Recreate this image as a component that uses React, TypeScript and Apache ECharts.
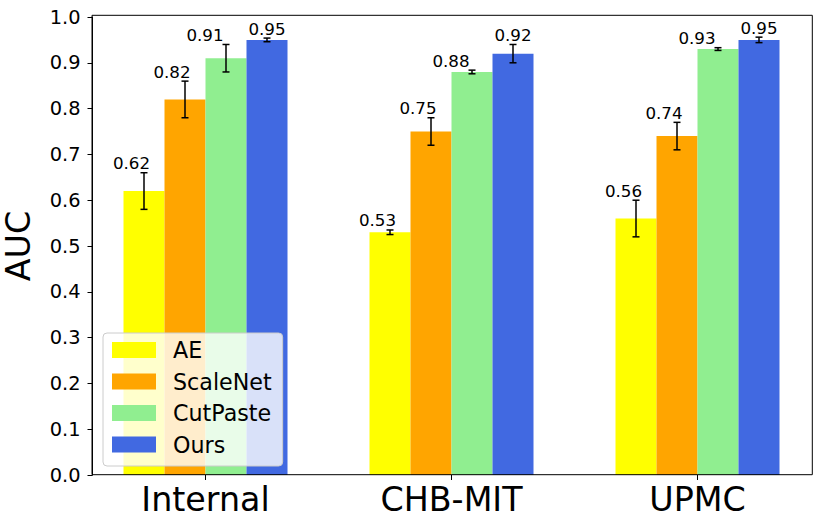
import React, { useEffect, useRef } from "react";
import * as echarts from "echarts";

const categories = ["Internal", "CHB-MIT", "UPMC"];
const methods = ["AE", "ScaleNet", "CutPaste", "Ours"];
const aeValues = [0.62, 0.53, 0.56];
const aeErrors = [0.04, 0.005, 0.04];
const scaleNetValues = [0.82, 0.75, 0.74];
const scaleNetErrors = [0.04, 0.03, 0.03];
const cutPasteValues = [0.91, 0.88, 0.93];
const cutPasteErrors = [0.03, 0.004, 0.003];
const oursValues = [0.95, 0.92, 0.95];
const oursErrors = [0.004, 0.02, 0.006];
const yTicks = [0, 0.1, 0.2, 0.3, 0.4, 0.5, 0.6, 0.7, 0.8, 0.9, 1.0];

const colors = ["#ffff00", "#ffa500", "#90ee90", "#4169e1"];
const labelShift = [-12.5, -13, -21, 0];
const BAR_FRACTION = 41 / 246;
const FONT = "DejaVu Sans";

export default function App() {
  const ref = useRef<HTMLDivElement>(null);
  useEffect(() => {
    if (!ref.current) return;
    const chart = echarts.init(ref.current, undefined, { renderer: "svg" });
    const values = [aeValues, scaleNetValues, cutPasteValues, oursValues];
    const errors = [aeErrors, scaleNetErrors, cutPasteErrors, oursErrors];

    const barSeries = methods.map((m, s) => ({
      name: m,
      type: "bar",
      data: values[s],
      barWidth: (BAR_FRACTION * 100).toFixed(3) + "%",
      barGap: "0%",
      itemStyle: { color: colors[s] },
      z: 2,
    }));

    const errSeries = methods.map((m, s) => ({
      name: m + "-err",
      type: "custom",
      z: 3,
      data: values[s].map((v, i) => [i, v, errors[s][i]]),
      renderItem: (params: any, api: any) => {
        const idx = api.value(0);
        const v = api.value(1);
        const e = api.value(2);
        const center = api.coord([idx, v]);
        const band = api.size([1, 0])[0];
        const bw = band * BAR_FRACTION;
        const x = center[0] + (s - 1.5) * bw;
        const yTop = api.coord([idx, v + e])[1];
        const yBot = api.coord([idx, v - e])[1];
        const cap = 3.5;
        const ls = { stroke: "#000", lineWidth: 1.5 };
        return {
          type: "group",
          children: [
            { type: "line", shape: { x1: x, y1: yTop, x2: x, y2: yBot }, style: ls },
            { type: "line", shape: { x1: x - cap, y1: yTop, x2: x + cap, y2: yTop }, style: ls },
            { type: "line", shape: { x1: x - cap, y1: yBot, x2: x + cap, y2: yBot }, style: ls },
            {
              type: "text",
              x: x + labelShift[s],
              y: yTop - 1,
              style: {
                text: v.toFixed(2),
                fill: "#000",
                font: `16.7px '${FONT}'`,
                align: "center",
                verticalAlign: "bottom",
              },
            },
          ],
        };
      },
    }));

    chart.setOption({
      animation: false,
      textStyle: { fontFamily: FONT, color: "#000" },
      grid: { left: 82.5, right: 0.5, top: 17, bottom: 53, containLabel: false, outerBoundsMode: "none" },
      legend: {
        data: methods,
        orient: "vertical",
        left: 103,
        top: 333,
        icon: "rect",
        itemWidth: 44,
        itemHeight: 16,
        itemGap: 9.5,
        padding: [6, 11, 10.5, 9],
        backgroundColor: "rgba(255,255,255,0.8)",
        borderColor: "#cccccc",
        borderWidth: 1,
        borderRadius: 4,
        textStyle: { fontSize: 22.2, fontFamily: FONT, color: "#000", padding: [0, 0, 0, 12] },
        selectedMode: false,
      },
      xAxis: {
        type: "category",
        data: categories,
        axisLine: { show: false },
        axisTick: { show: true, alignWithLabel: true, length: 5, lineStyle: { color: "#000" } },
        axisLabel: { fontSize: 33.3, color: "#000", margin: 8, fontFamily: FONT },
      },
      yAxis: {
        type: "value",
        min: yTicks[0],
        max: yTicks[yTicks.length - 1],
        interval: 0.1,
        offset: -10,
        name: "AUC",
        nameLocation: "middle",
        nameRotate: 90,
        nameGap: 58,
        nameTextStyle: { fontSize: 33.3, color: "#000", fontFamily: FONT },
        axisLine: { show: true, lineStyle: { color: "#000", width: 1 } },
        axisTick: { show: true, length: 5, lineStyle: { color: "#000" } },
        axisLabel: { fontSize: 19.4, color: "#000", margin: 12, fontFamily: FONT, formatter: (v: number) => v.toFixed(1) },
        splitLine: { show: false },
      },
      graphic: [
        {
          type: "rect",
          shape: { x: 92, y: 15.3, width: 720.3, height: 459.4 },
          style: { fill: "none", stroke: "#000", lineWidth: 1 },
          silent: true,
          z: 10,
        },
      ],
      series: [...barSeries, ...errSeries],
    });
    return () => chart.dispose();
  }, []);
  return (
    <div
      ref={ref}
      style={{ position: "absolute", left: 0, top: 0, width: 821, height: 528, background: "#fff" }}
    />
  );
}
